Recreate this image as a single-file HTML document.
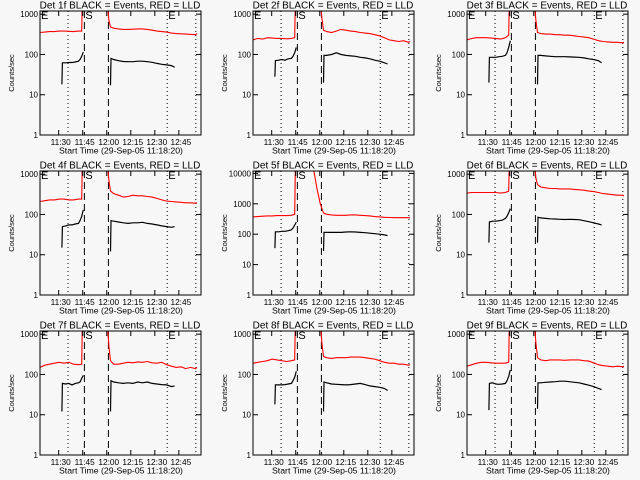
<!DOCTYPE html>
<html><head><meta charset="utf-8">
<style>
html,body{margin:0;padding:0;background:#f7f7f7;}
svg{display:block;font-family:"Liberation Sans",sans-serif;}
</style></head>
<body>
<svg id="chart" width="640" height="480" viewBox="0 0 640 480" xmlns="http://www.w3.org/2000/svg">
<rect x="0" y="0" width="640" height="480" fill="#f7f7f7"/>
</svg>
<script>
// minutes since 11:18:20
const xTickMinutes = [11.67, 26.67, 41.67, 56.67, 71.67, 86.67];
const xTickLabels = ["11:30", "11:45", "12:00", "12:15", "12:30", "12:45"];
const dottedMinutes = [17.5, 79.4, 97.3];
const dashedMinutes = [27.7, 42.7];
const redPreT = [0, 3, 6, 9, 12, 15, 18, 21, 24, 26];
const redDropT = [38, 40, 42];
const redPostT = [43, 44, 46, 49, 52, 55, 58, 61, 64, 67, 70, 73, 76, 79, 82, 85, 88, 91, 94, 97, 98];
const blkPreT = [14, 16, 18, 20, 22, 24, 25, 26, 27];
const blkPostT = [44.3, 46, 49, 52, 55, 58, 61, 64, 67, 70, 73, 76, 79, 82, 84];
const detNames = ["1f","2f","3f","4f","5f","6f","7f","8f","9f"];
const yMaxes = [1200,1200,1200,1200,12000,1200,1200,1200,1200];
const yTickValues = [1, 10, 100, 1000, 10000];
const yTickLabels = ["1", "10", "100", "1000", "10000"];
const redPre = [
[350,360,370,370,380,380,375,370,380,380],
[230,250,240,260,255,250,250,245,250,260],
[230,250,260,260,260,255,250,240,260,300],
[210,220,230,230,240,240,230,230,240,240],
[370,380,390,400,400,410,410,410,420,450],
[340,350,350,350,350,350,350,340,350,380],
[150,170,180,190,200,190,200,180,175,180],
[190,200,210,220,240,230,220,210,220,230],
[160,175,190,200,200,195,190,190,190,200]];
const redDrop = [
[5000,5000,2000],[5000,5000,2000],[5000,5000,2000],
[5000,5000,2000],[12000,3000,1000],[5000,5000,2000],
[5000,5000,2000],[5000,5000,2000],[5000,5000,2000]];
const redPost = [
[700,480,450,430,420,420,425,430,430,420,400,380,370,360,340,330,325,320,315,310,330],
[800,400,370,350,380,420,400,380,370,350,340,330,310,290,260,230,220,210,220,200,210],
[700,350,330,320,320,310,310,300,300,290,280,270,260,240,220,210,205,200,200,195,200],
[700,380,330,300,270,280,300,290,290,280,270,250,230,215,210,205,200,195,195,190,195],
[700,500,450,430,420,420,420,430,430,420,410,400,380,370,360,355,350,350,350,350,350],
[800,550,480,460,440,440,430,430,430,420,410,400,380,370,350,330,320,310,300,300,290],
[500,220,180,180,190,200,195,205,200,210,195,190,200,175,160,150,155,140,150,140,150],
[600,280,260,250,260,260,260,270,270,270,260,250,240,220,200,190,190,180,180,170,175],
[600,260,230,220,230,230,230,225,230,230,230,220,215,195,175,165,160,155,160,155,160]];
const blkLowPre = [18,28,20,15,35,20,12,18,13];
const blkLowPost = [17,20,18,12,28,20,12,12,14];
const blkPre = [
[62,62,63,63,65,68,75,90,115],
[70,72,75,72,78,80,90,110,150],
[85,85,85,88,90,95,110,150,220],
[50,52,55,55,58,60,70,90,130],
[120,120,125,125,130,140,160,200,250],
[65,68,68,70,72,80,90,110,140],
[60,58,60,55,60,62,65,80,95],
[55,55,55,56,58,60,70,85,120],
[60,62,58,57,58,60,70,90,130]];
const blkPost = [
[80,75,70,67,66,66,68,68,66,64,60,57,55,53,48],
[95,95,100,110,100,95,92,90,85,82,78,72,68,62,58],
[95,95,92,90,88,88,88,87,86,85,82,78,75,70,62],
[70,68,65,62,60,62,62,64,60,58,55,52,50,48,50],
[115,115,115,115,115,118,120,118,115,112,108,104,100,95,90],
[85,82,80,78,77,76,75,76,75,74,70,66,62,58,55],
[70,65,62,60,62,60,65,62,65,60,58,56,55,50,52],
[65,62,58,57,56,55,56,58,60,56,52,50,48,45,40],
[62,62,64,65,66,68,68,66,64,62,58,54,50,45,42]];

const NS = "http://www.w3.org/2000/svg";
const svg = document.getElementById("chart");
function mk(tag, attrs, parent){const e=document.createElementNS(NS,tag);for(const k in attrs)e.setAttribute(k,attrs[k]);parent.appendChild(e);return e;}
const BX0=40, BX1=201, BY0=11, BY1=135, TMAX=100.5;

for(let p=0;p<9;p++){
  const ox=Math.round((p%3)*213.4), oy=Math.floor(p/3)*160;
  const g=mk("g",{transform:`translate(${ox},${oy})`},svg);
  
  
  const ymax=yMaxes[p];
  const xs=t=>BX0+(BX1-BX0)*t/TMAX;
  const ys=v=>BY1-(BY1-BY0)*Math.log10(v)/Math.log10(ymax);
  const cid="clip"+p;
  const cp=mk("clipPath",{id:cid},g);
  mk("rect",{x:BX0,y:BY0,width:BX1-BX0,height:BY1-BY0},cp);
  const title=mk("text",{x:120,y:8.5,"font-size":"10","text-anchor":"middle",fill:"#000"},g);
  title.textContent="Det "+detNames[p]+" BLACK = Events, RED = LLD";
  
  
  dottedMinutes.forEach(m=>{const l=mk("line",{x1:xs(m),x2:xs(m),y1:BY0,y2:BY1,stroke:"#000","stroke-width":1,"stroke-dasharray":"1,3"},g);
    
    });
  dashedMinutes.forEach(m=>{const l=mk("line",{x1:xs(m),x2:xs(m),y1:BY0,y2:BY1,stroke:"#000","stroke-width":1,"stroke-dasharray":"7,4"},g);
    
    });
  [[BX0+1,"E"],[xs(dashedMinutes[0])+1,"S"],[xs(dottedMinutes[1])+1,"E"]].forEach(([x,s])=>{
    const t=mk("text",{x:x,y:BY0+8,"font-size":"11",fill:"#000"},g);t.textContent=s;
    
    });
  const rp=[];
  redPreT.forEach((t,i)=>rp.push([t,redPre[p][i]]));
  rp.push([redPreT[redPreT.length-1]+0.5,ymax*3]);
  rp.push([redDropT[0]-0.5,ymax*3]);
  redDropT.forEach((t,i)=>rp.push([t,redDrop[p][i]]));
  redPostT.forEach((t,i)=>rp.push([t,redPost[p][i]]));
  const rl=mk("polyline",{points:rp.map(q=>xs(q[0]).toFixed(1)+","+ys(q[1]).toFixed(1)).join(" "),fill:"none",stroke:"#ff0000","stroke-width":1.1,"clip-path":`url(#${cid})`},g);
  
  
  const b1=[[blkPreT[0]-0.3,blkLowPre[p]]];
  blkPreT.forEach((t,i)=>b1.push([t,blkPre[p][i]]));
  const b2=[[blkPostT[0]-0.3,blkLowPost[p]]];
  blkPostT.forEach((t,i)=>b2.push([t,blkPost[p][i]]));
  [b1,b2].forEach(arr=>{const bl=mk("polyline",{points:arr.map(q=>xs(q[0]).toFixed(1)+","+ys(q[1]).toFixed(1)).join(" "),fill:"none",stroke:"#000","stroke-width":1.2,"clip-path":`url(#${cid})`},g);
    
    });
  const box=mk("rect",{x:BX0,y:BY0,width:BX1-BX0,height:BY1-BY0,fill:"none",stroke:"#000","stroke-width":1},g);
  
  
  yTickValues.forEach((v,i)=>{ if(v>ymax) return; const y=ys(v);
    mk("line",{x1:BX0,x2:BX0+5,y1:y,y2:y,stroke:"#000"},g);
    mk("line",{x1:BX1-5,x2:BX1,y1:y,y2:y,stroke:"#000"},g);
    const t=mk("text",{x:BX0-2,y:y+3,"font-size":"8","text-anchor":"end",fill:"#000"},g);t.textContent=yTickLabels[i];
    
    });
  xTickMinutes.forEach((m,i)=>{const x=xs(m);
    mk("line",{x1:x,x2:x,y1:BY1,y2:BY1-5,stroke:"#000"},g);
    mk("line",{x1:x,x2:x,y1:BY0,y2:BY0+5,stroke:"#000"},g);
    const t=mk("text",{x:x+2,y:145,"font-size":"8.3","text-anchor":"middle",fill:"#000"},g);t.textContent=xTickLabels[i];
    
    });
  const xt=mk("text",{x:121,y:153.5,"font-size":"8.7","text-anchor":"middle",fill:"#000"},g);
  xt.textContent="Start Time (29-Sep-05 11:18:20)";
  
  
  const yt=mk("text",{x:0,y:0,"font-size":"7.5","text-anchor":"middle",fill:"#000",transform:`translate(14,${(BY0+BY1)/2}) rotate(-90)`},g);
  yt.textContent="Counts/sec";
  
  
}
</script>
</body></html>
